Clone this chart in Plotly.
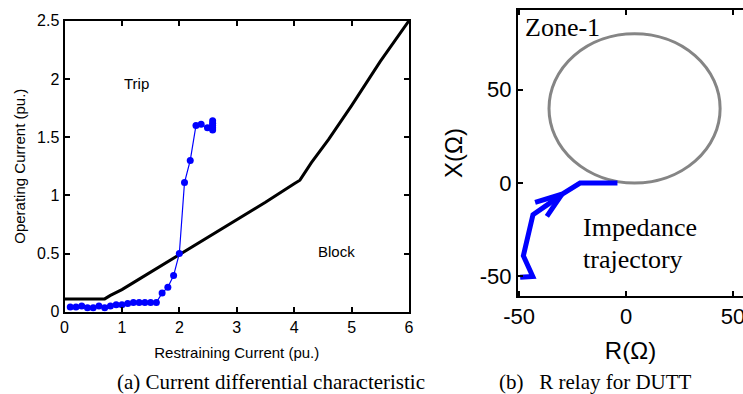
import plotly.graph_objects as go

# ---------------- data: (a) current differential characteristic ----------------
char_x = [0, 0.7, 0.8, 1.0, 1.2, 1.5, 2.0, 2.5, 3.0, 3.5, 4.0, 4.1, 4.3, 4.6, 5.0, 5.5, 6.0]
char_y = [0.11, 0.11, 0.14, 0.19, 0.25, 0.34, 0.49, 0.64, 0.79, 0.94, 1.10, 1.13, 1.28, 1.48, 1.77, 2.15, 2.5]

pts_x = [0.1, 0.2, 0.3, 0.4, 0.5, 0.6, 0.7, 0.8, 0.9, 1.0, 1.1, 1.2, 1.3, 1.4, 1.5, 1.6,
         1.7, 1.8, 1.9, 2.0, 2.09, 2.19, 2.29, 2.38, 2.49, 2.58, 2.58, 2.58, 2.58, 2.58]
pts_y = [0.04, 0.04, 0.05, 0.035, 0.035, 0.05, 0.035, 0.05, 0.06, 0.06, 0.07, 0.08, 0.08, 0.08, 0.08, 0.08,
         0.16, 0.21, 0.31, 0.5, 1.11, 1.30, 1.60, 1.61, 1.58, 1.56, 1.58, 1.60, 1.62, 1.64]

x_ticks_a = [0, 1, 2, 3, 4, 5, 6]
y_ticks_a = [0, 0.5, 1, 1.5, 2, 2.5]
y_tick_text_a = ["0", "0.5", "1", "1.5", "2", "2.5"]

# ---------------- data: (b) R relay (impedance plane) ----------------
mho_center = (4, 40)
mho_radius = 40

traj_r = [-49.5, -43.6, -48.0, -43.5, -36.0, -30.0, -21.5, -4.0]
traj_x = [-50.5, -50.0, -39.0, -17.0, -11.0, -6.0, 0.0, 0.0]

arrow_r = [-42.5, -30.0, -37.0]
arrow_x = [-10.4, -6.0, -17.9]

ticks_b = [-50, 0, 50]
tick_text_b = ["-50", "0", "50"]

W, H = 743, 394
SANS = "Liberation Sans, Arial, sans-serif"
SERIF = "Liberation Serif, Times New Roman, serif"

fig = go.Figure()

fig.add_trace(go.Scatter(x=char_x, y=char_y, mode="lines",
                         line=dict(color="black", width=3), xaxis="x", yaxis="y",
                         showlegend=False, cliponaxis=False))
fig.add_trace(go.Scatter(x=pts_x, y=pts_y, mode="lines+markers",
                         line=dict(color="#0000ff", width=1.2),
                         marker=dict(color="#0000ff", size=7),
                         xaxis="x", yaxis="y", showlegend=False, cliponaxis=False))

fig.add_trace(go.Scatter(x=traj_r, y=traj_x, mode="lines",
                         line=dict(color="#0000ff", width=5), xaxis="x2", yaxis="y2",
                         showlegend=False, cliponaxis=False))
fig.add_trace(go.Scatter(x=arrow_r, y=arrow_x, mode="lines",
                         line=dict(color="#0000ff", width=5), xaxis="x2", yaxis="y2",
                         showlegend=False, cliponaxis=False))

fig.add_shape(type="circle", xref="x2", yref="y2",
              x0=mho_center[0] - mho_radius, x1=mho_center[0] + mho_radius,
              y0=mho_center[1] - mho_radius, y1=mho_center[1] + mho_radius,
              line=dict(color="#858585", width=3), layer="below")

def px_x(p):
    return p / W

def px_y(p):
    return 1 - p / H

ax_common = dict(showline=True, linecolor="black", linewidth=2, ticks="inside",
                 tickcolor="black", ticklen=5, tickwidth=1.5, showgrid=False,
                 zeroline=False, automargin=False, ticklabeloverflow="allow")

fig.update_layout(
    width=W, height=H, margin=dict(l=0, r=0, t=0, b=0),
    paper_bgcolor="white", plot_bgcolor="white",
    xaxis=dict(domain=[px_x(64.5), px_x(409)], range=[0, 6], tickvals=x_ticks_a,
               mirror="ticks", anchor="y",
               tickfont=dict(family=SANS, size=16, color="black"),
               title=dict(text="Restraining Current (pu.)", standoff=13,
                          font=dict(family=SANS, size=15, color="black")),
               **ax_common),
    yaxis=dict(domain=[px_y(311.7), px_y(20.7)], range=[0, 2.5], tickvals=y_ticks_a,
               ticktext=y_tick_text_a, mirror="ticks", anchor="x",
               tickfont=dict(family=SANS, size=16, color="black"),
               title=dict(text="Operating Current (pu.)", standoff=8,
                          font=dict(family=SANS, size=15, color="black")),
               **ax_common),
    xaxis2=dict(domain=[px_x(518), 1.0], range=[-50.5, 54.7], tickvals=ticks_b,
                ticktext=tick_text_b, mirror="ticks", anchor="y2",
                tickfont=dict(family=SANS, size=22, color="black"),
                title=dict(text="R(Ω)", standoff=14,
                           font=dict(family=SANS, size=24, color="black")),
                **ax_common),
    yaxis2=dict(domain=[px_y(296), px_y(10)], range=[-60.5, 92.7], tickvals=ticks_b,
                ticktext=tick_text_b, mirror=False, anchor="x2",
                tickfont=dict(family=SANS, size=22, color="black"),
                title=dict(text="X(Ω)", standoff=10,
                           font=dict(family=SANS, size=24, color="black")),
                **ax_common),
)

annotations = [
    dict(text="Trip", x=1.25, y=1.96, xref="x", yref="y", showarrow=False,
         font=dict(family=SANS, size=15, color="black")),
    dict(text="Block", x=4.74, y=0.52, xref="x", yref="y", showarrow=False,
         font=dict(family=SANS, size=15, color="black")),
    dict(text="Zone-1", x=px_x(523), y=px_y(28), xref="paper", yref="paper",
         xanchor="left", yanchor="middle", showarrow=False,
         font=dict(family=SERIF, size=26, color="black")),
    dict(text="Impedance", x=px_x(581), y=px_y(228), xref="paper", yref="paper",
         xanchor="left", yanchor="middle", showarrow=False,
         font=dict(family=SERIF, size=26, color="black")),
    dict(text="trajectory", x=px_x(581), y=px_y(259), xref="paper", yref="paper",
         xanchor="left", yanchor="middle", showarrow=False,
         font=dict(family=SERIF, size=26, color="black")),
    dict(text="(a) Current differential characteristic", x=px_x(271), y=px_y(382),
         xref="paper", yref="paper", xanchor="center", yanchor="middle", showarrow=False,
         font=dict(family=SERIF, size=21, color="black")),
    dict(text="(b)   R relay for DUTT", x=px_x(595), y=px_y(382),
         xref="paper", yref="paper", xanchor="center", yanchor="middle", showarrow=False,
         font=dict(family=SERIF, size=21, color="black")),
]
fig.update_layout(annotations=annotations)

fig.write_html("out.html")
